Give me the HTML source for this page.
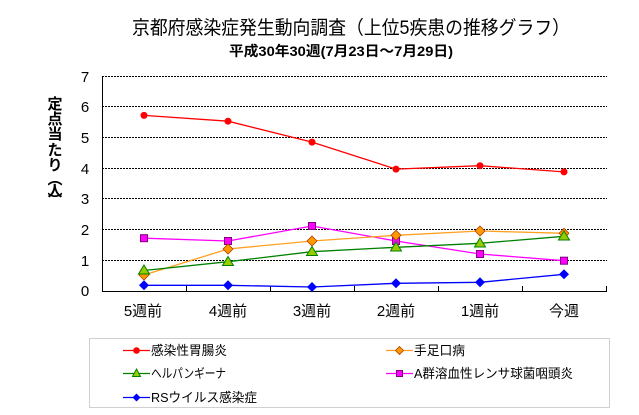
<!DOCTYPE html>
<html><head><meta charset="utf-8"><style>
html,body{margin:0;padding:0;background:#fff;}
svg{display:block;}
text{font-family:"Liberation Sans","Noto Sans CJK JP",sans-serif;fill:#000;}
</style></head><body>
<svg width="639" height="415" viewBox="0 0 639 415" xmlns="http://www.w3.org/2000/svg">
<rect width="639" height="415" fill="#fff"/>
<!-- titles -->
<text x="132" y="34" font-size="19" textLength="438" lengthAdjust="spacingAndGlyphs">京都府感染症発生動向調査（上位5疾患の推移グラフ）</text>
<text x="229" y="56" font-size="14" font-weight="bold" textLength="224" lengthAdjust="spacingAndGlyphs">平成30年30週(7月23日～7月29日)</text>

<!-- gridlines -->
<g stroke="#000" stroke-width="1" stroke-dasharray="2,1">
<line x1="102" y1="76.5" x2="607" y2="76.5"/>
<line x1="102" y1="106.5" x2="607" y2="106.5"/>
<line x1="102" y1="137.5" x2="607" y2="137.5"/>
<line x1="102" y1="168.5" x2="607" y2="168.5"/>
<line x1="102" y1="198.5" x2="607" y2="198.5"/>
<line x1="102" y1="229.5" x2="607" y2="229.5"/>
<line x1="102" y1="260.5" x2="607" y2="260.5"/>
</g>
<!-- axes -->
<g stroke="#000" stroke-width="1">
<line x1="102.5" y1="76" x2="102.5" y2="291.5"/>
<line x1="102" y1="291.5" x2="607" y2="291.5"/>
<line x1="186.5" y1="286" x2="186.5" y2="291"/>
<line x1="270.5" y1="286" x2="270.5" y2="291"/>
<line x1="354.5" y1="286" x2="354.5" y2="291"/>
<line x1="438.5" y1="286" x2="438.5" y2="291"/>
<line x1="522.5" y1="286" x2="522.5" y2="291"/>
<line x1="606.5" y1="286" x2="606.5" y2="291"/>
</g>
<!-- y tick labels -->
<g font-size="15" text-anchor="middle">
<text x="85" y="82">7</text>
<text x="85" y="112">6</text>
<text x="85" y="143">5</text>
<text x="85" y="174">4</text>
<text x="85" y="204">3</text>
<text x="85" y="235">2</text>
<text x="85" y="266">1</text>
<text x="85" y="296">0</text>
</g>
<!-- y axis title -->
<g font-size="15" font-weight="bold" text-anchor="middle">
<text x="55" y="109">定</text>
<text x="55" y="124">点</text>
<text x="55" y="139">当</text>
<text x="55" y="155">た</text>
<text x="55" y="170">り</text>
<text x="55" y="184">︵</text>
<text x="55" y="196">人</text>
<text x="55" y="205">︶</text>
</g>
<!-- x labels -->
<g font-size="15" text-anchor="middle">
<text x="143" y="316">5週前</text>
<text x="228" y="316">4週前</text>
<text x="312" y="316">3週前</text>
<text x="396" y="316">2週前</text>
<text x="480" y="316">1週前</text>
<text x="564" y="316">今週</text>
</g>

<!-- series: y = 291 - v*30.7 -->
<!-- red: 5.72 5.53 4.85 3.97 4.08 3.88 -->
<polyline fill="none" stroke="#ff0000" stroke-width="1.3" points="144,115.4 228,121.2 312,142.1 396,169.1 480,165.7 564,171.9"/>
<g fill="#ff0000">
<circle cx="144" cy="115.4" r="3.5"/><circle cx="228" cy="121.2" r="3.5"/><circle cx="312" cy="142.1" r="3.5"/>
<circle cx="396" cy="169.1" r="3.5"/><circle cx="480" cy="165.7" r="3.5"/><circle cx="564" cy="171.9" r="3.5"/>
</g>
<!-- magenta -->
<polyline fill="none" stroke="#ff00ff" stroke-width="1.3" points="144,238.2 228,241 312,226 396,241 480,254 564,260.7"/>
<g fill="#ff00ff" stroke="#800080" stroke-width="1">
<rect x="140.5" y="234.7" width="7" height="7"/><rect x="224.5" y="237.5" width="7" height="7"/><rect x="308.5" y="222.5" width="7" height="7"/>
<rect x="392.5" y="237.5" width="7" height="7"/><rect x="476.5" y="250.5" width="7" height="7"/><rect x="560.5" y="257.2" width="7" height="7"/>
</g>
<!-- orange -->
<polyline fill="none" stroke="#ffa020" stroke-width="1.3" points="144,275 228,249 312,241 396,235.3 480,231 564,233.3"/>
<g fill="#ff9900" stroke="#b04000" stroke-width="0.8">
<polygon points="144,270 149,275 144,280 139,275"/>
<polygon points="228,244 233,249 228,254 223,249"/>
<polygon points="312,236 317,241 312,246 307,241"/>
<polygon points="396,230.3 401,235.3 396,240.3 391,235.3"/>
<polygon points="480,226 485,231 480,236 475,231"/>
<polygon points="564,228.3 569,233.3 564,238.3 559,233.3"/>
</g>
<!-- green -->
<polyline fill="none" stroke="#008000" stroke-width="1.3" points="144,270.5 228,261.7 312,251.7 396,247.3 480,243.3 564,236.3"/>
<g fill="#99cc00" stroke="#008000" stroke-width="1">
<polygon points="144,265 149.5,274 138.5,274"/>
<polygon points="228,256.5 233.5,265.5 222.5,265.5"/>
<polygon points="312,246.5 317.5,255.5 306.5,255.5"/>
<polygon points="396,242 401.5,251 390.5,251"/>
<polygon points="480,238 485.5,247 474.5,247"/>
<polygon points="564,231 569.5,240 558.5,240"/>
</g>
<!-- blue -->
<polyline fill="none" stroke="#0000ff" stroke-width="1.3" points="144,285.3 228,285.3 312,287 396,283.3 480,282.3 564,274.3"/>
<g fill="#0000ff">
<polygon points="144,280.3 149,285.3 144,290.3 139,285.3"/>
<polygon points="228,280.3 233,285.3 228,290.3 223,285.3"/>
<polygon points="312,282 317,287 312,292 307,287"/>
<polygon points="396,278.3 401,283.3 396,288.3 391,283.3"/>
<polygon points="480,277.3 485,282.3 480,287.3 475,282.3"/>
<polygon points="564,269.3 569,274.3 564,279.3 559,274.3"/>
</g>

<!-- legend -->
<rect x="89.5" y="338.5" width="520" height="69" fill="none" stroke="#a0a0a0" stroke-width="1" stroke-dasharray="1,1"/>
<g font-size="13">
<line x1="123" y1="350.5" x2="150" y2="350.5" stroke="#ff0000" stroke-width="1.3"/>
<circle cx="136.5" cy="350.5" r="3.3" fill="#ff0000"/>
<text x="151" y="355" textLength="76" lengthAdjust="spacingAndGlyphs">感染性胃腸炎</text>

<line x1="123" y1="373.5" x2="150" y2="373.5" stroke="#008000" stroke-width="1.3"/>
<polygon points="136.5,369 140.5,376.5 132.5,376.5" fill="#99cc00" stroke="#008000" stroke-width="1"/>
<text x="151" y="378" textLength="75" lengthAdjust="spacingAndGlyphs">ヘルパンギーナ</text>

<line x1="123" y1="397.5" x2="150" y2="397.5" stroke="#0000ff" stroke-width="1.3"/>
<polygon points="136.5,393.5 140.5,397.5 136.5,401.5 132.5,397.5" fill="#0000ff"/>
<text x="151" y="402" textLength="106" lengthAdjust="spacingAndGlyphs">RSウイルス感染症</text>

<line x1="386" y1="350.5" x2="413" y2="350.5" stroke="#ffa020" stroke-width="1.3"/>
<polygon points="399.5,346.5 403.5,350.5 399.5,354.5 395.5,350.5" fill="#ff9900" stroke="#b04000" stroke-width="0.8"/>
<text x="414" y="355" textLength="51" lengthAdjust="spacingAndGlyphs">手足口病</text>

<line x1="386" y1="373.5" x2="413" y2="373.5" stroke="#ff00ff" stroke-width="1.3"/>
<rect x="396.5" y="370.5" width="6" height="6" fill="#ff00ff" stroke="#800080" stroke-width="1"/>
<text x="414" y="378" textLength="159" lengthAdjust="spacingAndGlyphs">A群溶血性レンサ球菌咽頭炎</text>
</g>
</svg>
</body></html>
